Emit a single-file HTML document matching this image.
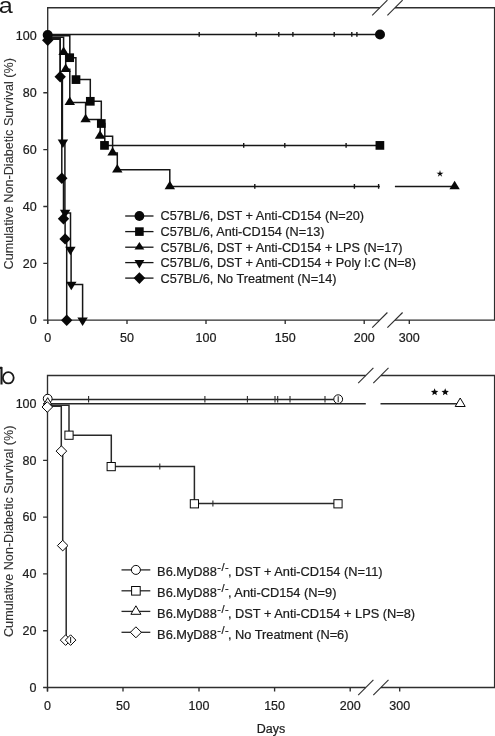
<!DOCTYPE html><html><head><meta charset="utf-8"><title>Survival</title><style>html,body{margin:0;padding:0;background:#fff;}svg{display:block;font-family:"Liberation Sans",sans-serif;filter:blur(0.3px);}text{stroke:#222;stroke-width:0.22px;}</style></head><body><svg width="495" height="736" viewBox="0 0 495 736" font-family="Liberation Sans, sans-serif">
<rect width="495" height="736" fill="#fff"/>
<path d="M47.7,324.1V7.7H379.8M395,7.7H494.6V320.1H395M379.8,320.1H47.7" fill="none" stroke="#2e2e2e" stroke-width="1.35"/>
<path d="M47.7,320.1v4M127,320.1v4M206,320.1v4M285.2,320.1v4M364.2,320.1v4M409.3,320.1v4" fill="none" stroke="#2e2e2e" stroke-width="1.35"/>
<path d="M47.7,35.8h-4.4M47.7,92.7h-4.4M47.7,149.6h-4.4M47.7,206.5h-4.4M47.7,263.4h-4.4M47.7,320.1h-4.4" fill="none" stroke="#2e2e2e" stroke-width="1.35"/>
<path d="M372.2,15.3L387.4,0.1" fill="none" stroke="#2e2e2e" stroke-width="1.1"/>
<path d="M387.4,15.3L402.6,0.1" fill="none" stroke="#2e2e2e" stroke-width="1.1"/>
<path d="M372.2,327.7L387.4,312.5" fill="none" stroke="#2e2e2e" stroke-width="1.1"/>
<path d="M387.4,327.7L402.6,312.5" fill="none" stroke="#2e2e2e" stroke-width="1.1"/>
<text x="47.7" y="342.3" font-size="12.5" text-anchor="middle" fill="#1a1a1a" >0</text>
<text x="127" y="342.3" font-size="12.5" text-anchor="middle" fill="#1a1a1a" >50</text>
<text x="206" y="342.3" font-size="12.5" text-anchor="middle" fill="#1a1a1a" >100</text>
<text x="285.2" y="342.3" font-size="12.5" text-anchor="middle" fill="#1a1a1a" >150</text>
<text x="364.2" y="342.3" font-size="12.5" text-anchor="middle" fill="#1a1a1a" >200</text>
<text x="409.3" y="342.3" font-size="12.5" text-anchor="middle" fill="#1a1a1a" >300</text>
<text x="36.7" y="40.1" font-size="12.5" text-anchor="end" fill="#1a1a1a" >100</text>
<text x="36.7" y="97" font-size="12.5" text-anchor="end" fill="#1a1a1a" >80</text>
<text x="36.7" y="153.9" font-size="12.5" text-anchor="end" fill="#1a1a1a" >60</text>
<text x="36.7" y="210.8" font-size="12.5" text-anchor="end" fill="#1a1a1a" >40</text>
<text x="36.7" y="267.7" font-size="12.5" text-anchor="end" fill="#1a1a1a" >20</text>
<text x="36.7" y="324.4" font-size="12.5" text-anchor="end" fill="#1a1a1a" >0</text>
<path d="M47.7,39.2H60.2V76.6H61.8V178.2H63.5V218.8H65.1V238.9H66.7V320.3" fill="none" stroke="#161616" stroke-width="1.5"/>
<path d="M47.7,38.2H60.2V76H62.4V142.4H64.9V213H70.5V249.5H71.1V284.5H82.6V320.3" fill="none" stroke="#161616" stroke-width="1.5"/>
<path d="M47.7,37.2H63.6V52.3H65.7V69.2H69.8V102.5H85.6V119.4H100.2V136.2H112.6V153H117.3V169.7H169.8V186.4H379.8M394.9,186.4H454.6" fill="none" stroke="#161616" stroke-width="1.5"/>
<path d="M254.8,184V188.8M354.4,184V188.8M378.6,184V188.8" fill="none" stroke="#161616" stroke-width="1.4"/>
<path d="M47.7,35.8H69.8V57.7H75.9V79.6H90.3V101.3H101.3V123.5H104.8V145.4H379.6" fill="none" stroke="#161616" stroke-width="1.5"/>
<path d="M243.7,143V147.8M284.8,143V147.8M346.1,143V147.8" fill="none" stroke="#161616" stroke-width="1.4"/>
<path d="M47.7,34.4H380" fill="none" stroke="#161616" stroke-width="1.5"/>
<path d="M199.2,32V36.8M256.2,32V36.8M278.8,32V36.8M292.9,32V36.8M334.2,32V36.8M351.8,32V36.8M356.9,32V36.8" fill="none" stroke="#161616" stroke-width="1.4"/>
<polygon points="47.7,34.5 53.4,40.2 47.7,45.9 42,40.2" fill="#080808"/>
<polygon points="60.2,71 65.9,76.7 60.2,82.4 54.5,76.7" fill="#080808"/>
<polygon points="61.8,172.5 67.5,178.2 61.8,183.9 56.1,178.2" fill="#080808"/>
<polygon points="63.5,213.1 69.2,218.8 63.5,224.5 57.8,218.8" fill="#080808"/>
<polygon points="65.1,233.2 70.8,238.9 65.1,244.6 59.4,238.9" fill="#080808"/>
<polygon points="66.7,314.6 72.4,320.3 66.7,326 61,320.3" fill="#080808"/>
<polygon points="57.7,139.6 68.1,139.6 62.9,148.1" fill="#080808"/>
<polygon points="59.9,209.8 70.3,209.8 65.1,218.3" fill="#080808"/>
<polygon points="65.2,246.8 75.6,246.8 70.4,255.3" fill="#080808"/>
<polygon points="66.1,281.7 76.5,281.7 71.3,290.2" fill="#080808"/>
<polygon points="77.4,317.5 87.8,317.5 82.6,326" fill="#080808"/>
<polygon points="63.6,46.6 68.8,55.1 58.4,55.1" fill="#080808"/>
<polygon points="65.7,63.5 70.9,72 60.5,72" fill="#080808"/>
<polygon points="69.8,96.6 75,105.1 64.6,105.1" fill="#080808"/>
<polygon points="85.6,113.7 90.8,122.2 80.4,122.2" fill="#080808"/>
<polygon points="100,130.3 105.2,138.8 94.8,138.8" fill="#080808"/>
<polygon points="112.6,147.1 117.8,155.6 107.4,155.6" fill="#080808"/>
<polygon points="117.3,164 122.5,172.5 112.1,172.5" fill="#080808"/>
<polygon points="169.8,180.7 175,189.2 164.6,189.2" fill="#080808"/>
<polygon points="454.6,180.7 459.8,189.2 449.4,189.2" fill="#080808"/>
<rect x="65.35" y="53.35" width="8.7" height="8.7" fill="#080808"/>
<rect x="71.65" y="75.25" width="8.7" height="8.7" fill="#080808"/>
<rect x="85.95" y="96.95" width="8.7" height="8.7" fill="#080808"/>
<rect x="96.95" y="119.15" width="8.7" height="8.7" fill="#080808"/>
<rect x="100.15" y="141.05" width="8.7" height="8.7" fill="#080808"/>
<rect x="375.55" y="141.05" width="8.7" height="8.7" fill="#080808"/>
<circle cx="47.7" cy="35" r="5" fill="#080808"/>
<circle cx="380" cy="34.5" r="5" fill="#080808"/>
<polygon points="440,170.1 440.76,172.75 443.52,172.66 441.24,174.2 442.17,176.79 440,175.1 437.83,176.79 438.76,174.2 436.48,172.66 439.24,172.75" fill="#080808"/>
<path d="M125.2,216H153.5" fill="none" stroke="#161616" stroke-width="1.3"/>
<circle cx="139.4" cy="216" r="4.9" fill="#080808"/>
<text x="160.5" y="220.4" font-size="12.7" text-anchor="start" fill="#1a1a1a" >C57BL/6, DST + Anti-CD154 (N=20)</text>
<path d="M125.2,231.6H153.5" fill="none" stroke="#161616" stroke-width="1.3"/>
<rect x="135.1" y="227.3" width="8.6" height="8.6" fill="#080808"/>
<text x="160.5" y="236" font-size="12.7" text-anchor="start" fill="#1a1a1a" >C57BL/6, Anti-CD154 (N=13)</text>
<path d="M125.2,247.2H153.5" fill="none" stroke="#161616" stroke-width="1.3"/>
<polygon points="139.4,242 144.3,249.6 134.5,249.6" fill="#080808"/>
<text x="160.5" y="251.6" font-size="12.7" text-anchor="start" fill="#1a1a1a" >C57BL/6, DST + Anti-CD154 + LPS (N=17)</text>
<path d="M125.2,262.6H153.5" fill="none" stroke="#161616" stroke-width="1.3"/>
<polygon points="134.5,260 144.3,260 139.4,268.4" fill="#080808"/>
<text x="160.5" y="267" font-size="12.7" text-anchor="start" fill="#1a1a1a" >C57BL/6, DST + Anti-CD154 + Poly I:C (N=8)</text>
<path d="M125.2,278.1H153.5" fill="none" stroke="#161616" stroke-width="1.3"/>
<polygon points="139.4,272.3 145.2,278.1 139.4,283.9 133.6,278.1" fill="#080808"/>
<text x="160.5" y="282.5" font-size="12.7" text-anchor="start" fill="#1a1a1a" >C57BL/6, No Treatment (N=14)</text>
<text transform="translate(-1.2,12.9) scale(1.12,1)" font-size="22.5" fill="#1a1a1a" style="stroke:none">a</text>
<text transform="translate(13.4,163.7) rotate(-90)" x="0" y="0" font-size="12.65" text-anchor="middle" fill="#333" style="stroke:#333;stroke-width:0.1px">Cumulative Non-Diabetic Survival (%)</text>
<path d="M47.5,691.5V375.5H365.8M380.9,375.5H494.6V687.5H380.9M365.8,687.5H47.5" fill="none" stroke="#2e2e2e" stroke-width="1.35"/>
<path d="M47.5,687.5v4M123,687.5v4M199,687.5v4M274.6,687.5v4M350.2,687.5v4M399.7,687.5v4" fill="none" stroke="#2e2e2e" stroke-width="1.35"/>
<path d="M47.5,403.6h-4.4M47.5,460.3h-4.4M47.5,517.1h-4.4M47.5,573.9h-4.4M47.5,630.7h-4.4M47.5,687.5h-4.4" fill="none" stroke="#2e2e2e" stroke-width="1.35"/>
<path d="M358.2,383.1L373.4,367.9" fill="none" stroke="#2e2e2e" stroke-width="1.1"/>
<path d="M373.3,383.1L388.5,367.9" fill="none" stroke="#2e2e2e" stroke-width="1.1"/>
<path d="M358.2,695.1L373.4,679.9" fill="none" stroke="#2e2e2e" stroke-width="1.1"/>
<path d="M373.3,695.1L388.5,679.9" fill="none" stroke="#2e2e2e" stroke-width="1.1"/>
<text x="47.5" y="710" font-size="12.5" text-anchor="middle" fill="#1a1a1a" >0</text>
<text x="123" y="710" font-size="12.5" text-anchor="middle" fill="#1a1a1a" >50</text>
<text x="199" y="710" font-size="12.5" text-anchor="middle" fill="#1a1a1a" >100</text>
<text x="274.6" y="710" font-size="12.5" text-anchor="middle" fill="#1a1a1a" >150</text>
<text x="350.2" y="710" font-size="12.5" text-anchor="middle" fill="#1a1a1a" >200</text>
<text x="399.7" y="710" font-size="12.5" text-anchor="middle" fill="#1a1a1a" >300</text>
<text x="36.5" y="407.9" font-size="12.5" text-anchor="end" fill="#1a1a1a" >100</text>
<text x="36.5" y="464.6" font-size="12.5" text-anchor="end" fill="#1a1a1a" >80</text>
<text x="36.5" y="521.4" font-size="12.5" text-anchor="end" fill="#1a1a1a" >60</text>
<text x="36.5" y="578.2" font-size="12.5" text-anchor="end" fill="#1a1a1a" >40</text>
<text x="36.5" y="635" font-size="12.5" text-anchor="end" fill="#1a1a1a" >20</text>
<text x="36.5" y="691.8" font-size="12.5" text-anchor="end" fill="#1a1a1a" >0</text>
<path d="M47.5,406.2H61.3V451H62.7V545.6H66.2V640.1H70.6" fill="none" stroke="#282828" stroke-width="1.5"/>
<path d="M47.5,405.2H69V435.2H111.3V466.6H194.4V503.6H338" fill="none" stroke="#282828" stroke-width="1.5"/>
<path d="M159.8,463.6V469.6" fill="none" stroke="#282828" stroke-width="1.1"/>
<path d="M212.9,500.6V506.6" fill="none" stroke="#282828" stroke-width="1.1"/>
<path d="M47.5,403.7H365.8M380.5,403.7H460.2" fill="none" stroke="#282828" stroke-width="1.5"/>
<path d="M47.5,399.5H338.2" fill="none" stroke="#282828" stroke-width="1.5"/>
<path d="M88.6,396V402.6M204.9,396V402.6M247.4,396V402.6M275,396V402.6M277.7,396V402.6M290,396V402.6M325,396V402.6" fill="none" stroke="#282828" stroke-width="1.1"/>
<circle cx="47.7" cy="398.7" r="4.4" fill="#fff" stroke="#080808" stroke-width="1"/>
<polygon points="47.7,397.7 51.7,404.4 43.7,404.4" fill="#fff" stroke="#080808" stroke-width="1"/>
<polygon points="47.3,401.7 52.6,407 47.3,412.3 42,407" fill="#fff" stroke="#080808" stroke-width="1"/>
<polygon points="61.4,445.8 66.7,451.1 61.4,456.4 56.1,451.1" fill="#fff" stroke="#080808" stroke-width="1"/>
<polygon points="62.7,540.3 68,545.6 62.7,550.9 57.4,545.6" fill="#fff" stroke="#080808" stroke-width="1"/>
<polygon points="65.6,634.8 70.9,640.1 65.6,645.4 60.3,640.1" fill="#fff" stroke="#080808" stroke-width="1"/>
<polygon points="70.6,634.8 75.9,640.1 70.6,645.4 65.3,640.1" fill="#fff" stroke="#080808" stroke-width="1"/>
<rect x="64.9" y="431.1" width="8.2" height="8.2" fill="#fff" stroke="#080808" stroke-width="1"/>
<rect x="107.1" y="462.5" width="8.2" height="8.2" fill="#fff" stroke="#080808" stroke-width="1"/>
<rect x="190.3" y="499.7" width="8.2" height="8.2" fill="#fff" stroke="#080808" stroke-width="1"/>
<rect x="333.9" y="499.7" width="8.2" height="8.2" fill="#fff" stroke="#080808" stroke-width="1"/>
<polygon points="460.2,398 465.2,406.5 455.2,406.5" fill="#fff" stroke="#080808" stroke-width="1"/>
<circle cx="338.2" cy="399.2" r="4.4" fill="#fff" stroke="#080808" stroke-width="1"/>
<path d="M70.6,637.1V643.1" fill="none" stroke="#282828" stroke-width="1.1"/>
<path d="M338.2,396.2V402.2" fill="none" stroke="#282828" stroke-width="1.1"/>
<polygon points="434.6,388.2 435.6,390.72 438.31,390.89 436.22,392.63 436.89,395.26 434.6,393.8 432.31,395.26 432.98,392.63 430.89,390.89 433.6,390.72" fill="#080808"/>
<polygon points="445.2,388.2 446.2,390.72 448.91,390.89 446.82,392.63 447.49,395.26 445.2,393.8 442.91,395.26 443.58,392.63 441.49,390.89 444.2,390.72" fill="#080808"/>
<path d="M121.5,569.9H150.3" fill="none" stroke="#282828" stroke-width="1.3"/>
<circle cx="135.9" cy="569.9" r="4.5" fill="#fff" stroke="#080808" stroke-width="1"/>
<text x="157.1" y="576.2" font-size="12.8" fill="#1a1a1a">B6.MyD88<tspan font-size="11" dy="-5.2" dx="0.4" letter-spacing="0.5">-/-</tspan><tspan dy="5.2" dx="-1.2">, DST + Anti-CD154 (N=11)</tspan></text>
<path d="M121.5,590.8H150.3" fill="none" stroke="#282828" stroke-width="1.3"/>
<rect x="131.6" y="586.5" width="8.6" height="8.6" fill="#fff" stroke="#080808" stroke-width="1"/>
<text x="157.1" y="597.3" font-size="12.8" fill="#1a1a1a">B6.MyD88<tspan font-size="11" dy="-5.2" dx="0.4" letter-spacing="0.5">-/-</tspan><tspan dy="5.2" dx="-1.2">, Anti-CD154 (N=9)</tspan></text>
<path d="M121.5,611.4H150.3" fill="none" stroke="#282828" stroke-width="1.3"/>
<polygon points="135.9,605.8 140.9,614.3 130.9,614.3" fill="#fff" stroke="#080808" stroke-width="1"/>
<text x="157.1" y="617.9" font-size="12.8" fill="#1a1a1a">B6.MyD88<tspan font-size="11" dy="-5.2" dx="0.4" letter-spacing="0.5">-/-</tspan><tspan dy="5.2" dx="-1.2">, DST + Anti-CD154 + LPS (N=8)</tspan></text>
<path d="M121.5,632.3H150.3" fill="none" stroke="#282828" stroke-width="1.3"/>
<polygon points="135.9,626.8 141.4,632.3 135.9,637.8 130.4,632.3" fill="#fff" stroke="#080808" stroke-width="1"/>
<text x="157.1" y="639" font-size="12.8" fill="#1a1a1a">B6.MyD88<tspan font-size="11" dy="-5.2" dx="0.4" letter-spacing="0.5">-/-</tspan><tspan dy="5.2" dx="-1.2">, No Treatment (N=6)</tspan></text>
<path d="M1.5,367.1V384.4M-1,367.9H2" fill="none" stroke="#1a1a1a" stroke-width="2.1"/>
<ellipse cx="8.3" cy="377.8" rx="5.4" ry="5.6" fill="none" stroke="#1a1a1a" stroke-width="1.8"/>
<text transform="translate(12.8,531.3) rotate(-90)" x="0" y="0" font-size="12.65" text-anchor="middle" fill="#333" style="stroke:#333;stroke-width:0.1px">Cumulative Non-Diabetic Survival (%)</text>
<text x="271" y="733" font-size="12.5" text-anchor="middle" fill="#1a1a1a" >Days</text>
</svg></body></html>
